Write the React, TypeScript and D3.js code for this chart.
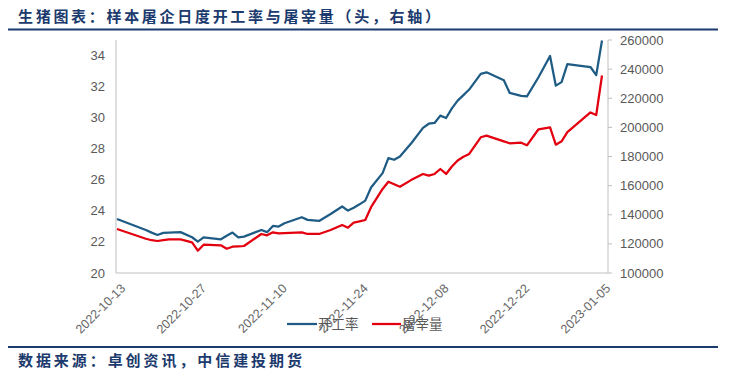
import React from "react";
import * as d3 from "d3";

const dates = [
  "2022-10-13","2022-10-18","2022-10-19","2022-10-20","2022-10-21","2022-10-22","2022-10-24","2022-10-26",
  "2022-10-27","2022-10-28","2022-10-31","2022-11-01","2022-11-02","2022-11-03","2022-11-04","2022-11-07",
  "2022-11-08","2022-11-09","2022-11-10","2022-11-11","2022-11-14","2022-11-15","2022-11-17","2022-11-19",
  "2022-11-21","2022-11-22","2022-11-23","2022-11-24","2022-11-25","2022-11-26","2022-11-28","2022-11-29",
  "2022-11-30","2022-12-01","2022-12-03","2022-12-05","2022-12-06","2022-12-07","2022-12-08","2022-12-09",
  "2022-12-10","2022-12-11","2022-12-12","2022-12-13","2022-12-15","2022-12-16","2022-12-19","2022-12-20",
  "2022-12-22","2022-12-23","2022-12-25","2022-12-27","2022-12-28","2022-12-29","2022-12-30","2023-01-03",
  "2023-01-04","2023-01-05"
];

const operatingRate = [
  23.48, 22.77, 22.6, 22.45, 22.58, 22.6, 22.63, 22.3,
  22.02, 22.29, 22.17, 22.4, 22.6, 22.3, 22.34, 22.77,
  22.63, 23.03, 22.99, 23.2, 23.59, 23.42, 23.35, 23.8,
  24.28, 24.02, 24.2, 24.42, 24.66, 25.5, 26.43, 27.4,
  27.29, 27.5, 28.37, 29.34, 29.61, 29.66, 30.13, 29.98,
  30.6, 31.1, 31.45, 31.81, 32.82, 32.92, 32.41, 31.6,
  31.4, 31.37, 32.6, 33.97, 32.06, 32.29, 33.45, 33.26,
  32.74, 34.97
];

const slaughterVolume = [
  130200, 123500, 122500, 121980, 122600, 123150, 123150, 121090,
  115320, 119440, 119020, 116690, 118060, 118300, 118540, 126790,
  125890, 127950, 127270, 127400, 127950, 126790, 126790, 129530,
  132970, 131110, 134550, 135500, 136400, 145170, 157700, 162700,
  161000, 159270, 163970, 168000, 166830, 168000, 171430, 168000,
  173100, 177300, 179870, 181730, 193200, 194300, 190400, 189080,
  189490, 187700, 198690, 199930, 188120, 190450, 196700, 210230,
  208510, 235640
];

const xTickLabels = ["2022-10-13","2022-10-27","2022-11-10","2022-11-24","2022-12-08","2022-12-22","2023-01-05"];
const leftTicks = [20, 22, 24, 26, 28, 30, 32, 34];
const rightTicks = [100000, 120000, 140000, 160000, 180000, 200000, 220000, 240000, 260000];
const seriesNames = ["开工率", "屠宰量"];

const title = "生猪图表：样本屠企日度开工率与屠宰量（头，右轴）";
const source = "数据来源：卓创资讯，中信建投期货";

const W = 737, H = 378;
const plot = { left: 116, right: 608, top: 40, bottom: 273 };
const BLUE = "#1f5c85";
const RED = "#e3000f";
const NAVY = "#1b3a6d";
const GRAY_TEXT = "#595959";
const AXIS = "#bfbfbf";

const parse = d3.utcParse("%Y-%m-%d");

export default function App() {
  const dateObjs = dates.map((d) => parse(d)!);
  const x = d3
    .scaleUtc()
    .domain([parse("2022-10-13")!, parse("2023-01-05")!])
    .range([117, 602]);
  const yL = d3.scaleLinear().domain([20, 35]).range([plot.bottom, plot.top]);
  const yR = d3.scaleLinear().domain([100000, 260000]).range([plot.bottom, plot.top]);

  const lineL = d3
    .line<number>()
    .x((_, i) => x(dateObjs[i]))
    .y((v) => yL(v));
  const lineR = d3
    .line<number>()
    .x((_, i) => x(dateObjs[i]))
    .y((v) => yR(v));

  const font = "'Liberation Sans', Arial, sans-serif";
  const cjk = "'Noto Sans CJK SC', sans-serif";

  return (
    <svg
      width={W}
      height={H}
      style={{ position: "absolute", left: 0, top: 0, background: "#fff" }}
    >
      <rect x={0} y={0} width={W} height={H} fill="#fff" />
      {/* Title */}
      <text
        x={18}
        y={22}
        fontFamily={cjk}
        fontWeight={700}
        fontSize={15}
        fill={NAVY}
        textLength={422}
        lengthAdjust="spacing"
      >
        {title}
      </text>
      <line x1={8} x2={718} y1={29.5} y2={29.5} stroke={NAVY} strokeWidth={2} />

      {/* axes */}
      <line x1={plot.left} x2={plot.left} y1={plot.top} y2={plot.bottom} stroke={AXIS} strokeWidth={1} />
      <line x1={plot.left} x2={plot.right} y1={plot.bottom} y2={plot.bottom} stroke={AXIS} strokeWidth={1} />
      <line x1={plot.right} x2={plot.right} y1={plot.top} y2={plot.bottom} stroke={AXIS} strokeWidth={1} />

      {leftTicks.map((t) => (
        <text
          key={"l" + t}
          x={105}
          y={yL(t)}
          dy="0.35em"
          textAnchor="end"
          fontFamily={font}
          fontSize={13}
          fill={GRAY_TEXT}
        >
          {t}
        </text>
      ))}
      {rightTicks.map((t) => (
        <g key={"r" + t}>
          <line x1={plot.right} x2={plot.right + 4} y1={yR(t)} y2={yR(t)} stroke={AXIS} />
          <text
            x={620}
            y={yR(t)}
            dy="0.35em"
            textAnchor="start"
            fontFamily={font}
            fontSize={13}
            fill={GRAY_TEXT}
          >
            {t}
          </text>
        </g>
      ))}

      {xTickLabels.map((t) => {
        const px = x(parse(t)!);
        return (
          <text
            key={"x" + t}
            transform={`translate(${px + 6},${plot.bottom + 13}) rotate(-45)`}
            textAnchor="end"
            dy="0.35em"
            fontFamily={font}
            fontSize={12.5}
            fill="#666666"
          >
            {t}
          </text>
        );
      })}

      {/* lines */}
      <path d={lineR(slaughterVolume) || ""} fill="none" stroke={RED} strokeWidth={2.25} strokeLinejoin="round" />
      <path d={lineL(operatingRate) || ""} fill="none" stroke={BLUE} strokeWidth={2.25} strokeLinejoin="round" />

      {/* legend */}
      <line x1={287} x2={317} y1={324} y2={324} stroke={BLUE} strokeWidth={2.25} />
      <text x={318} y={324} dy="0.35em" fontFamily={cjk} fontSize={13.5} fill={GRAY_TEXT}>
        {seriesNames[0]}
      </text>
      <line x1={372} x2={401} y1={324} y2={324} stroke={RED} strokeWidth={2.25} />
      <text x={402} y={324} dy="0.35em" fontFamily={cjk} fontSize={13.5} fill={GRAY_TEXT}>
        {seriesNames[1]}
      </text>

      {/* footer */}
      <line x1={8} x2={718} y1={347} y2={347} stroke={NAVY} strokeWidth={2} />
      <text
        x={18}
        y={366}
        fontFamily={cjk}
        fontWeight={700}
        fontSize={15}
        fill={NAVY}
        textLength={284}
        lengthAdjust="spacing"
      >
        {source}
      </text>
    </svg>
  );
}
